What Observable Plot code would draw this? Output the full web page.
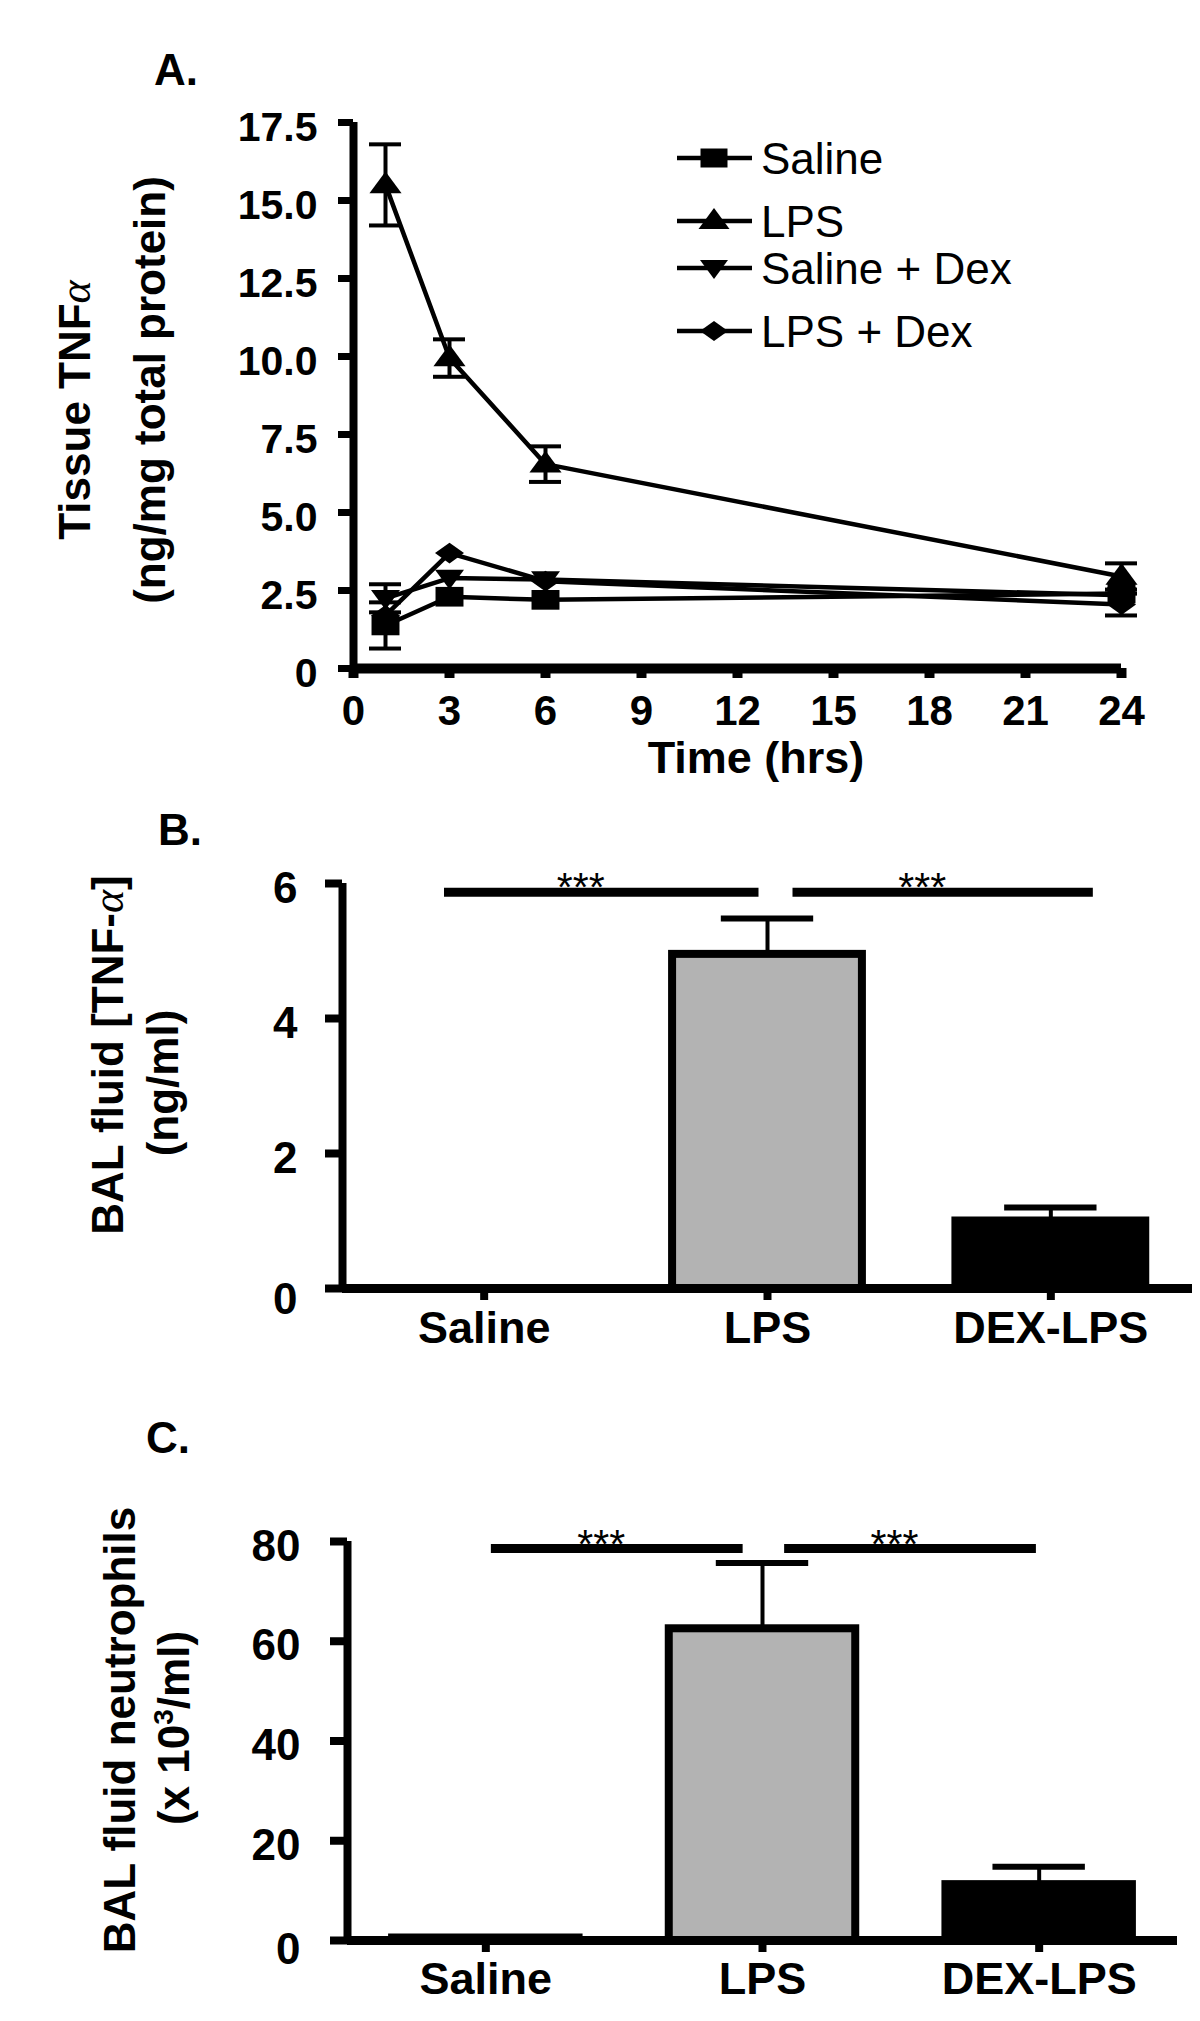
<!DOCTYPE html>
<html>
<head>
<meta charset="utf-8">
<script src="https://cdn.jsdelivr.net/npm/d3@7"></script>
<script src="https://cdn.jsdelivr.net/npm/@observablehq/plot@0.6"></script>
<style>
  body { margin: 0; background: #fff; }
  #page { position: relative; width: 1200px; height: 2021px; overflow: hidden; background: #fff;
          font-family: "Liberation Sans", Arial, sans-serif; }
  .panel { position: absolute; left: 0; }
  #overlay { position: absolute; left: 0; top: 0; pointer-events: none; }
</style>
</head>
<body>
<div id="page"></div>
<script>
// ---------------- Panel A data: tissue TNF-alpha time course ----------------
const timeHrs = [1, 3, 6, 24];
const groupNames = ["Saline", "LPS", "Saline + Dex", "LPS + Dex"];
const salineMean    = [1.38, 2.3, 2.2, 2.4];
const salineSem     = [0.74, 0, 0, 0];
const lpsMean       = [15.5, 9.95, 6.55, 2.95];
const lpsSem        = [1.3, 0.6, 0.57, 0.42];
const salineDexMean = [2.25, 2.9, 2.85, 2.35];
const salineDexSem  = [0.45, 0, 0, 0];
const lpsDexMean    = [1.7, 3.7, 2.8, 2.05];
const lpsDexSem     = [0, 0, 0, 0.35];
const xTicksA = [0, 3, 6, 9, 12, 15, 18, 21, 24];
const yTicksA = [0, 2.5, 5, 7.5, 10, 12.5, 15, 17.5];
const yTickLabelsA = ["0", "2.5", "5.0", "7.5", "10.0", "12.5", "15.0", "17.5"];

// ---------------- Panel B data: BAL TNF-alpha ----------------
const barCategories = ["Saline", "LPS", "DEX-LPS"];
const balTnfMean = [0, 4.95, 1.0];
const balTnfSem  = [0, 0.53, 0.2];
const yTicksB = [0, 2, 4, 6];
const sigFromB = [-0.14, 1.09];
const sigToB   = [0.97, 2.15];
const sigLevelB = 5.87;

// ---------------- Panel C data: BAL neutrophils ----------------
const neutroMean = [0.5, 62.5, 11.2];
const neutroSem  = [0, 13.2, 3.6];
const yTicksC = [0, 20, 40, 60, 80];
const sigFromC = [0.02, 1.08];
const sigToC   = [0.93, 1.99];
const sigLevelC = 78.6;
const sigText = "***";

const barFills = ["white", "#b3b3b3", "#000000"];

// ---------------- symbols ----------------
function poly(points) {
  return {
    points,
    draw(ctx, size) {
      const k = Math.sqrt(size / Math.PI) / 14;
      ctx.moveTo(points[0][0] * k, points[0][1] * k);
      for (let i = 1; i < points.length; i++) ctx.lineTo(points[i][0] * k, points[i][1] * k);
      ctx.closePath();
    }
  };
}
const symSquare  = poly([[-13.5, -9.5], [13.5, -9.5], [13.5, 9.5], [-13.5, 9.5]]);
const symTriUp   = poly([[0, -13], [15.5, 8], [-15.5, 8]]);
const symTriDown = poly([[-14, -8], [14, -8], [0, 11]]);
const symDiamond = poly([[0, -10], [14, 0], [0, 10], [-14, 0]]);

const FONT = "'Liberation Sans', Arial, Helvetica, sans-serif";
const page = document.getElementById("page");

function place(el, top) {
  const wrap = document.createElement("div");
  wrap.className = "panel";
  wrap.style.top = top + "px";
  wrap.appendChild(el);
  page.appendChild(wrap);
}

// ---------------- Panel A ----------------
const seriesA = [
  {name: groupNames[0], mean: salineMean, sem: salineSem, symbol: symSquare},
  {name: groupNames[1], mean: lpsMean, sem: lpsSem, symbol: symTriUp},
  {name: groupNames[2], mean: salineDexMean, sem: salineDexSem, symbol: symTriDown},
  {name: groupNames[3], mean: lpsDexMean, sem: lpsDexSem, symbol: symDiamond}
];
const rowsA = seriesA.flatMap(s => timeHrs.map((t, i) => ({group: s.name, t, v: s.mean[i], e: s.sem[i]})));
const errA = rowsA.filter(d => d.e > 0);

const plotA = Plot.plot({
  width: 1200, height: 800,
  marginLeft: 353, marginRight: 79, marginTop: 122, marginBottom: 132,
  style: {fontFamily: FONT, color: "black", background: "white"},
  x: {domain: [0, 24], axis: null},
  y: {domain: [0, 17.5], axis: null},
  marks: [
    Plot.line(rowsA, {x: "t", y: "v", z: "group", stroke: "black", strokeWidth: 4.5}),
    Plot.ruleX(errA, {x: "t", y1: d => d.v - d.e, y2: d => d.v + d.e, stroke: "black", strokeWidth: 4}),
    Plot.ruleY(errA, {y: d => d.v + d.e, x1: d => d.t - 0.5, x2: d => d.t + 0.5, stroke: "black", strokeWidth: 4}),
    Plot.ruleY(errA, {y: d => d.v - d.e, x1: d => d.t - 0.5, x2: d => d.t + 0.5, stroke: "black", strokeWidth: 4}),
    ...seriesA.map(s => Plot.dot(rowsA.filter(d => d.group === s.name),
      {x: "t", y: "v", r: 14.5, symbol: s.symbol, fill: "black", stroke: "none"})),
    Plot.ruleX([0], {stroke: "black", strokeWidth: 8}),
    Plot.ruleY([0], {stroke: "black", strokeWidth: 10}),
    Plot.axisY(yTicksA, {tickSize: 15, strokeWidth: 7, fill: "none", label: null}),
    Plot.axisY(yTicksA, {tickSize: 15, tickPadding: 21, stroke: "none", label: null, dy: 5,
      tickFormat: d => yTickLabelsA[yTicksA.indexOf(d)], fontSize: 41, fontWeight: "bold"}),
    Plot.axisX(xTicksA, {tickSize: 10, strokeWidth: 10, fill: "none", label: null}),
    Plot.axisX(xTicksA, {tickSize: 10, tickPadding: 17, stroke: "none", label: null,
      tickFormat: d => String(d), fontSize: 42, fontWeight: "bold"})
  ]
});
place(plotA, 0);

// ---------------- Bar panels ----------------
function barPanel({means, sems, yTicks, yMax, sigFrom, sigTo, sigLevel, sigDx, height, marginLeft, marginRight,
                   marginTop, marginBottom, labelPad, xLabelPad, zeroDy, barHalf, capHalf}) {
  const bars = barCategories.map((c, i) => ({c, i, v: means[i], e: sems[i], fill: barFills[i]}));
  const errs = bars.filter(d => d.e > 0);
  const sig = sigFrom.map((f, k) => ({from: f, to: sigTo[k], y: sigLevel}));
  return Plot.plot({
    width: 1200, height, marginLeft, marginRight, marginTop, marginBottom,
    style: {fontFamily: FONT, color: "black", background: "white"},
    x: {domain: [-0.5, 2.5], axis: null},
    y: {domain: [0, yMax], axis: null},
    color: {type: "identity"},
    marks: [
      Plot.ruleX(errs, {x: "i", y1: "v", y2: d => d.v + d.e, stroke: "black", strokeWidth: 4}),
      Plot.ruleY(errs, {y: d => d.v + d.e, x1: d => d.i - capHalf, x2: d => d.i + capHalf, stroke: "black", strokeWidth: 6}),
      Plot.rectY(bars, {x1: d => d.i - barHalf, x2: d => d.i + barHalf, y1: 0, y2: "v",
        fill: "fill", stroke: "black", strokeWidth: 8}),
      Plot.ruleY(sig, {y: "y", x1: "from", x2: "to", stroke: "black", strokeWidth: 9}),
      Plot.text(sig, {x: d => (d.from + d.to) / 2, y: "y", text: () => sigText, fontSize: 41,
        fontWeight: "normal", dx: sigDx, dy: -4, lineAnchor: "middle"}),
      Plot.ruleX([-0.5], {stroke: "black", strokeWidth: 8}),
      Plot.ruleY([0], {stroke: "black", strokeWidth: 9}),
      Plot.axisY(yTicks, {tickSize: 17, strokeWidth: 8, fill: "none", label: null}),
      Plot.axisY(yTicks.filter(v => v > 0), {tickSize: 17, tickPadding: labelPad, stroke: "none", label: null,
        dy: 5, fontSize: 44, fontWeight: "bold", tickFormat: d => String(d)}),
      Plot.axisY([0], {tickSize: 17, tickPadding: labelPad, stroke: "none", label: null,
        dy: zeroDy, fontSize: 44, fontWeight: "bold", tickFormat: d => String(d)}),
      Plot.axisX([0, 1, 2], {tickSize: 12, strokeWidth: 8, fill: "none", label: null}),
      Plot.axisX([0, 1, 2], {tickSize: 12, tickPadding: xLabelPad, stroke: "none", label: null,
        tickFormat: i => barCategories[i], fontSize: 45, fontWeight: "bold"})
    ]
  });
}

place(barPanel({means: balTnfMean, sems: balTnfSem, yTicks: yTicksB, yMax: 6,
  sigFrom: sigFromB, sigTo: sigToB, sigLevel: sigLevelB, sigDx: -21,
  height: 580, marginLeft: 342, marginRight: 8, marginTop: 83, marginBottom: 92,
  labelPad: 28, xLabelPad: 11, zeroDy: 11, barHalf: 0.335, capHalf: 0.163}), 800);

place(barPanel({means: neutroMean, sems: neutroSem, yTicks: yTicksC, yMax: 80,
  sigFrom: sigFromC, sigTo: sigToC, sigLevel: sigLevelC, sigDx: -16,
  height: 641, marginLeft: 347, marginRight: 23, marginTop: 161, marginBottom: 81,
  labelPad: 30, xLabelPad: 10, zeroDy: 9, barHalf: 0.337, capHalf: 0.167}), 1380);

// ---------------- Overlay: panel letters, axis titles, legend ----------------
const ov = d3.select(page).append("svg").attr("id", "overlay")
  .attr("width", 1200).attr("height", 2021)
  .style("font-family", FONT);

function txt(x, y, s, {size = 44, weight = "bold", anchor = "start", rotate = 0} = {}) {
  return ov.append("text")
    .attr("transform", `translate(${x},${y}) rotate(${rotate})`)
    .attr("text-anchor", anchor)
    .attr("font-size", size).attr("font-weight", weight).attr("fill", "black")
    .text(s);
}
function alphaTitle(x, y, before, after) {
  const t = ov.append("text")
    .attr("transform", `translate(${x},${y}) rotate(-90)`)
    .attr("text-anchor", "middle").attr("font-size", 44).attr("font-weight", "bold").attr("fill", "black");
  t.append("tspan").text(before);
  t.append("tspan").attr("font-family", "'Liberation Serif', 'DejaVu Serif', serif")
    .attr("font-style", "italic").attr("font-weight", "normal").text("\u03b1");
  if (after) t.append("tspan").text(after);
  return t;
}

txt(154, 85, "A.");
txt(158, 845, "B.");
txt(146, 1453, "C.");

alphaTitle(90, 410, "Tissue TNF", "");
txt(165, 390, "(ng/mg total protein)", {anchor: "middle", rotate: -90});
txt(756, 773, "Time (hrs)", {anchor: "middle", size: 45});

alphaTitle(123, 1055, "BAL fluid [TNF-", "]");
txt(178, 1083, "(ng/ml)", {anchor: "middle", rotate: -90});

txt(135, 1730, "BAL fluid neutrophils", {anchor: "middle", rotate: -90});
const cl2 = ov.append("text")
  .attr("transform", "translate(189,1728) rotate(-90)")
  .attr("text-anchor", "middle").attr("font-size", 44).attr("font-weight", "bold").attr("fill", "black");
cl2.append("tspan").text("(x 10");
cl2.append("tspan").attr("font-size", 28).attr("dy", -16).text("3");
cl2.append("tspan").attr("dy", 16).text("/ml)");

// Legend
const legendSymbols = [symSquare, symTriUp, symTriDown, symDiamond];
const legendRowsY = [158, 221, 268, 331];
groupNames.forEach((name, k) => {
  const y = legendRowsY[k];
  ov.append("line").attr("x1", 677).attr("x2", 752).attr("y1", y).attr("y2", y)
    .attr("stroke", "black").attr("stroke-width", 4.5);
  const pts = legendSymbols[k].points;
  ov.append("path").attr("transform", `translate(714,${y})`)
    .attr("d", "M" + pts.map(p => p.join(",")).join("L") + "Z").attr("fill", "black");
  txt(761, y + 16, name, {size: 44, weight: "normal"});
});
</script>
</body>
</html>
